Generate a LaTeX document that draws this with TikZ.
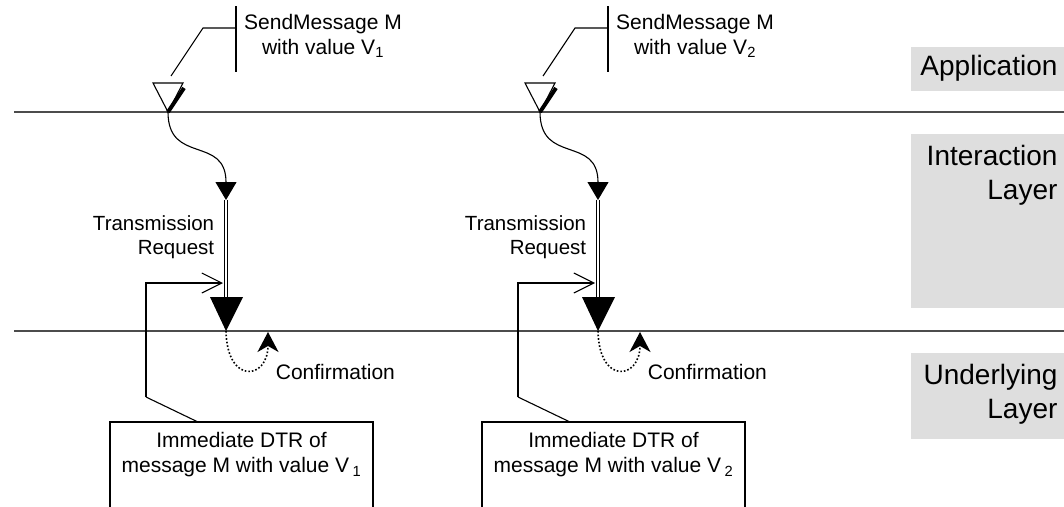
\documentclass[tikz,border=0pt]{standalone}
\usepackage{fontspec}
\setmainfont{Liberation Sans}
\usetikzlibrary{arrows.meta, positioning}

\tikzset{
  layer/.style={fill=black!13},
  layertext/.style={anchor=base east, inner sep=0, font=\fontsize{28}{34}\selectfont},
  sep/.style={black!70, line width=1.5},
}

\begin{document}
\begin{tikzpicture}[x=1pt, y=-1pt, line width=1.1, font=\fontsize{21}{25}\selectfont]
\useasboundingbox (0,0) rectangle (1064,506);
\clip (0,0) rectangle (1064,506);
% layer labels
\fill[layer] (911,47) rectangle (1064,91);
\fill[layer] (911,134) rectangle (1064,308);
\fill[layer] (911,353) rectangle (1064,439);
\node[layertext] (app) at (1058,75) {Application};
\node[layertext] (inter) at (1058,165) {Interaction};
\node[layertext] (interl) at (1058,199) {Layer};
\node[layertext] (under) at (1058,384) {Underlying};
\node[layertext] (underl) at (1058,418) {Layer};
\draw[sep] (14,112) -- (1064,112);
\draw[sep] (14,331) -- (1064,331);

\foreach \dx/\v in {0/1, 372/2}{
\begin{scope}[xshift=\dx]
\coordinate (apex\v) at (168,112);
\coordinate (req\v) at (226,200);
\coordinate (tip\v) at (226,331);
\coordinate (bend\v) at (146,397);
% send message
\draw (236,6) coordinate (tick\v) -- (236,72);
\draw (171,76) -- (203,28) -- (tick\v |- 0,28);
\node[align=center] (send\v) at (323,36) {SendMessage M\\with value V\textsubscript{\v}};
\draw (153,83) -- (183,83) -- (apex\v) -- cycle;
\draw[line width=4] (apex\v) -- (184,88);
% request
\draw[-{Triangle[length=18pt,width=21pt]}] (apex\v) .. controls (168,165) and (226,135) .. (req\v);
\draw[double, double distance=2.5] (req\v) -- (226,298);
\fill (210,297) -- (243,297) -- (tip\v) -- cycle;
\node[anchor=east, align=right, font=\fontsize{20.5}{23.5}\selectfont] (trans\v) at (218,237) {Transmission\\Request};
% confirmation
\draw[dotted, line width=1.6, -{Stealth[length=20pt,width=21pt,inset=6pt]}] (tip\v) .. controls (227,385) and (268,380) .. (268,332);
\node[anchor=west] (conf\v) at (272,372) {Confirmation};
% DTR box
\draw (110,530) -- (110,422) coordinate (boxtl\v) -- (373,422) -- (373,530);
\node[align=center] (dtr\v) at (241.5,455) {Immediate DTR of\\message M with value V\,\textsubscript{\v}};
\draw[-{Straight Barb[length=20pt,width=20pt]}] (bend\v) -- (146,283) -- (223,283);
\draw (bend\v) -- (198,422);
\end{scope}
}
\end{tikzpicture}
\end{document}
